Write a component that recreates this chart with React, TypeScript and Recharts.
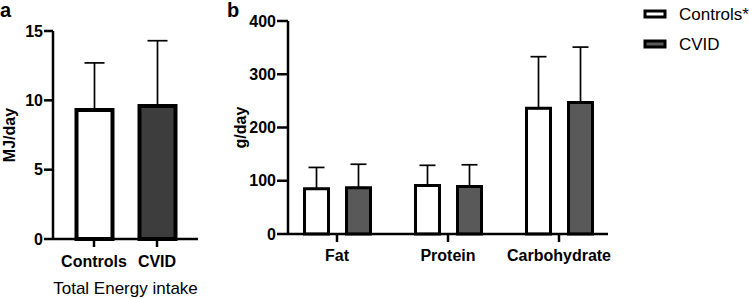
import { BarChart, Bar, XAxis, YAxis, ErrorBar, Cell, Legend } from 'recharts'

// panel a: total energy intake (MJ/day)
const energyGroups = ['Controls', 'CVID']
const energyMean = [9.3, 9.6]
const energySd = [3.4, 4.7]
const energyFills = ['#ffffff', '#3d3d3d']
const energyTicks = [0, 5, 10, 15]

// panel b: macronutrients (g/day)
const nutrients = ['Fat', 'Protein', 'Carbohydrate']
const controlsMean = [85, 91, 236]
const controlsSd = [40, 38, 97]
const cvidMean = [87, 89, 247]
const cvidSd = [44, 41, 104]
const nutrientTicks = [0, 100, 200, 300, 400]
const legendOrder = ['Controls*', 'CVID']

const energyData = energyGroups.map((name, i) => ({
  name,
  value: energyMean[i],
  err: [0, energySd[i]],
}))

const nutrientData = nutrients.map((name, i) => ({
  name,
  controls: controlsMean[i],
  controlsErr: [0, controlsSd[i]],
  cvid: cvidMean[i],
  cvidErr: [0, cvidSd[i]],
}))

const font = '"Liberation Sans", Arial, sans-serif'
const tickStyle = { fontSize: 16, fontWeight: 'bold', fill: '#000', fontFamily: font }
const axisLine = { stroke: '#000', strokeWidth: 2.5 }

function LegendBox({ payload }: any) {
  const items = [...(payload || [])].sort(
    (a: any, b: any) => legendOrder.indexOf(a.value) - legendOrder.indexOf(b.value)
  )
  return (
    <div style={{ fontFamily: font, fontSize: 17, color: '#000' }}>
      {items.map((entry: any) => (
        <div key={entry.value} style={{ display: 'flex', alignItems: 'center', height: 30 }}>
          <svg width={26} height={12} style={{ marginRight: 10 }}>
            <rect x={2} y={2} width={20} height={6} fill={entry.color} stroke="#000" strokeWidth={3} />
          </svg>
          <span>{entry.value}</span>
        </div>
      ))}
    </div>
  )
}

export default function App() {
  return (
    <div style={{ position: 'absolute', left: 0, top: 0, width: 749, height: 299, background: '#fff', fontFamily: font }}>
      <div style={{ position: 'absolute', left: 0, top: 0, fontSize: 20, lineHeight: '20px', fontWeight: 'bold' }}>a</div>
      <div style={{ position: 'absolute', left: 227, top: 0, fontSize: 20, lineHeight: '20px', fontWeight: 'bold' }}>b</div>

      <div style={{ position: 'absolute', left: 0, top: 0 }}>
        <BarChart width={210} height={299} data={energyData} margin={{ top: 31, right: 12, bottom: 0, left: 0 }}>
          <XAxis
            dataKey="name"
            height={60}
            padding={{ left: 9.5, right: 9.5 }}
            axisLine={axisLine}
            tickLine={axisLine}
            tickSize={8}
            tickMargin={8.5}
            tick={tickStyle}
            label={{ value: 'Total Energy intake', position: 'insideBottom', offset: 5, style: { fontSize: 17, fill: '#000', fontFamily: font } }}
          />
          <YAxis
            width={53}
            domain={[0, 15]}
            ticks={energyTicks}
            axisLine={axisLine}
            tickLine={axisLine}
            tickSize={9}
            tickMargin={1}
            tick={tickStyle}
            label={{ value: 'MJ/day', angle: -90, position: 'insideLeft', offset: 9, style: { textAnchor: 'middle', fontSize: 16, fontWeight: 'bold', fill: '#000', fontFamily: font } }}
          />
          <Bar dataKey="value" barSize={36} stroke="#000" strokeWidth={4} isAnimationActive={false}>
            {energyData.map((d, i) => (
              <Cell key={d.name} fill={energyFills[i]} />
            ))}
            <ErrorBar dataKey="err" width={10} stroke="#000" strokeWidth={1.7} />
          </Bar>
        </BarChart>
      </div>

      <div style={{ position: 'absolute', left: 210, top: 0 }}>
        <BarChart width={539} height={299} data={nutrientData} barGap={18} margin={{ top: 21, right: 35, bottom: 0, left: 0 }}>
          <XAxis
            dataKey="name"
            height={65}
            padding={{ left: -6.5, right: -6.5 }}
            axisLine={axisLine}
            tickLine={axisLine}
            tickSize={8}
            tickMargin={8}
            tick={tickStyle}
          />
          <YAxis
            width={78}
            domain={[0, 400]}
            ticks={nutrientTicks}
            axisLine={axisLine}
            tickLine={axisLine}
            tickSize={11}
            tickMargin={1}
            tick={tickStyle}
            label={{ value: 'g/day', angle: -90, position: 'insideLeft', offset: 30, style: { textAnchor: 'middle', fontSize: 16, fontWeight: 'bold', fill: '#000', fontFamily: font } }}
          />
          <Legend
            layout="vertical"
            align="right"
            verticalAlign="top"
            content={<LegendBox />}
            wrapperStyle={{ width: 106, right: 0, left: 'auto', top: 0 }}
          />
          <Bar dataKey="controls" name="Controls*" fill="#ffffff" barSize={24} stroke="#000" strokeWidth={3} isAnimationActive={false}>
            <ErrorBar dataKey="controlsErr" width={8} stroke="#000" strokeWidth={1.7} />
          </Bar>
          <Bar dataKey="cvid" name="CVID" fill="#595959" barSize={24} stroke="#000" strokeWidth={3} isAnimationActive={false}>
            <ErrorBar dataKey="cvidErr" width={8} stroke="#000" strokeWidth={1.7} />
          </Bar>
        </BarChart>
      </div>
    </div>
  )
}
